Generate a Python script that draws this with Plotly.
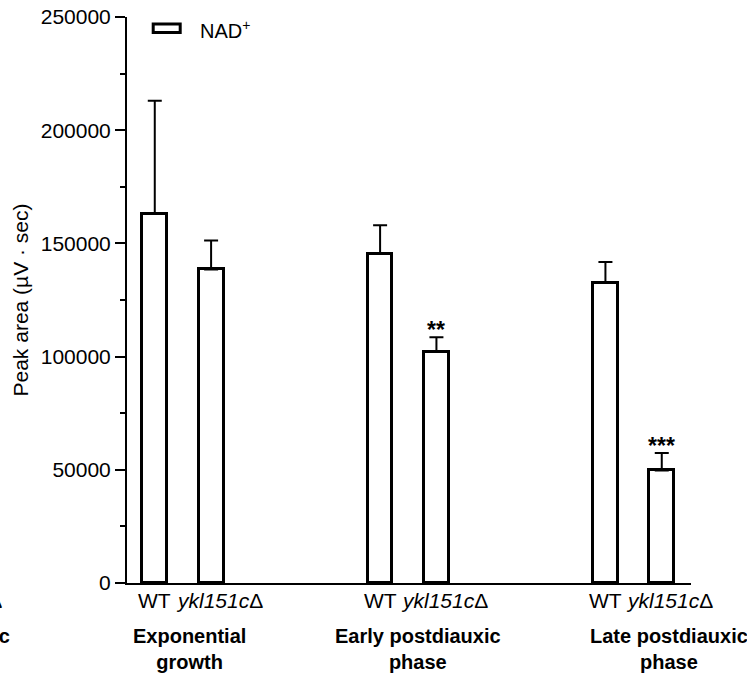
import plotly.graph_objects as go

# ---- data ----
groups = ["Exponential<br>growth", "Early postdiauxic<br>phase", "Late postdiauxic<br>phase"]
strain_labels = ["WT", "<i>ykl151c</i>Δ"]
wt_means = [163000, 145500, 132500]
wt_err = [50000, 12500, 9300]
mut_means = [138500, 102200, 49700]
mut_err = [12800, 6400, 7700]
significance = ["", "**", "***"]
legend_name = "NAD<sup>+</sup>"

# ---- layout constants ----
W, H = 747, 676
L, R, T, B = 127, 56, 17, 93
PW, PH = W - L - R, H - T - B
FONT = "Arial, Liberation Sans, sans-serif"
FS = 21

x_wt = [4 * i for i in range(len(groups))]
x_mut = [4 * i + 1 for i in range(len(groups))]

bar_style = dict(color="white", line=dict(color="black", width=3))

fig = go.Figure()
fig.add_trace(go.Bar(
    x=x_wt, y=wt_means, width=0.44, marker=bar_style, showlegend=False,
    error_y=dict(type="data", symmetric=False, array=wt_err, arrayminus=[0] * len(wt_err),
                 color="black", thickness=2, width=7)))
fig.add_trace(go.Bar(
    x=x_mut, y=mut_means, width=0.44, marker=bar_style, showlegend=False,
    error_y=dict(type="data", symmetric=False, array=mut_err, arrayminus=[0] * len(mut_err),
                 color="black", thickness=2, width=7)))

annotations = []
# significance stars
for xm, m, e, s in zip(x_mut, mut_means, mut_err, significance):
    if s:
        annotations.append(dict(x=xm, y=m + e, xref="x", yref="y", text="<b>" + s + "</b>",
                                showarrow=False, yanchor="bottom", yshift=-8,
                                font=dict(family=FONT, size=23, color="black")))

# strain labels under each bar
for xw, xm in zip(x_wt, x_mut):
    annotations.append(dict(x=xw, y=0, xref="x", yref="paper", text=strain_labels[0],
                            showarrow=False, yanchor="top", yshift=-4,
                            font=dict(family=FONT, size=FS, color="black")))
    annotations.append(dict(x=xm, y=0, xref="x", yref="paper", text=strain_labels[1],
                            showarrow=False, yanchor="top", yshift=-4, xshift=8,
                            font=dict(family=FONT, size=FS, color="black")))

# group labels (bold, two lines)
label_offsets = [0.11, 0.17, 0.62]
for i, (g, off) in enumerate(zip(groups, label_offsets)):
    annotations.append(dict(x=4 * i + 0.5 + off, y=0, xref="x", yref="paper", text="<b>" + g + "</b>",
                            showarrow=False, yanchor="top", yshift=-40, align="center",
                            font=dict(family=FONT, size=20, color="black")))

# fragments of the neighbouring panel (cut off at the left edge)
annotations.append(dict(x=(4 - L) / PW, y=0, xref="paper", yref="paper", text="<i>ykl151c</i>Δ",
                        showarrow=False, xanchor="right", yanchor="top", yshift=-4,
                        font=dict(family=FONT, size=FS, color="black")))
annotations.append(dict(x=(12 - L) / PW, y=0, xref="paper", yref="paper", text="<b>Late postdiauxic</b>",
                        showarrow=False, xanchor="right", yanchor="top", yshift=-40,
                        font=dict(family=FONT, size=20, color="black")))

# legend
annotations.append(dict(x=(198 - L) / PW, y=(583.3 - 30) / PH, xref="paper", yref="paper",
                        text=legend_name, showarrow=False, xanchor="left", yanchor="middle",
                        font=dict(family=FONT, size=20, color="black")))
shapes = [dict(type="rect", xref="paper", yref="paper",
               x0=(153.2 - L) / PW, x1=(180.2 - L) / PW,
               y0=(583.3 - 32.8) / PH, y1=(583.3 - 24.2) / PH,
               line=dict(color="black", width=3), fillcolor="white")]

fig.update_layout(
    width=W, height=H, margin=dict(l=L, r=R, t=T, b=B, pad=0, autoexpand=False),
    paper_bgcolor="white", plot_bgcolor="white",
    font=dict(family=FONT, size=FS, color="black"),
    bargap=0, annotations=annotations, shapes=shapes,
)
fig.update_xaxes(
    range=[-0.493, 9.519], showline=True, linewidth=2, linecolor="black",
    showticklabels=False, ticks="", showgrid=False, zeroline=False, automargin=False,
)
fig.update_yaxes(
    range=[0, 250000], dtick=50000, tickformat="d",
    showline=True, linewidth=2, linecolor="black",
    ticks="outside", ticklen=10, tickwidth=2, tickcolor="black",
    minor=dict(dtick=25000, ticks="outside", ticklen=5, tickwidth=2, tickcolor="black"),
    showgrid=False, zeroline=False, tickfont=dict(size=FS), automargin=False,
    title=dict(text="Peak area (µV · sec)", font=dict(size=FS), standoff=6),
)

fig.write_html("out.html")
